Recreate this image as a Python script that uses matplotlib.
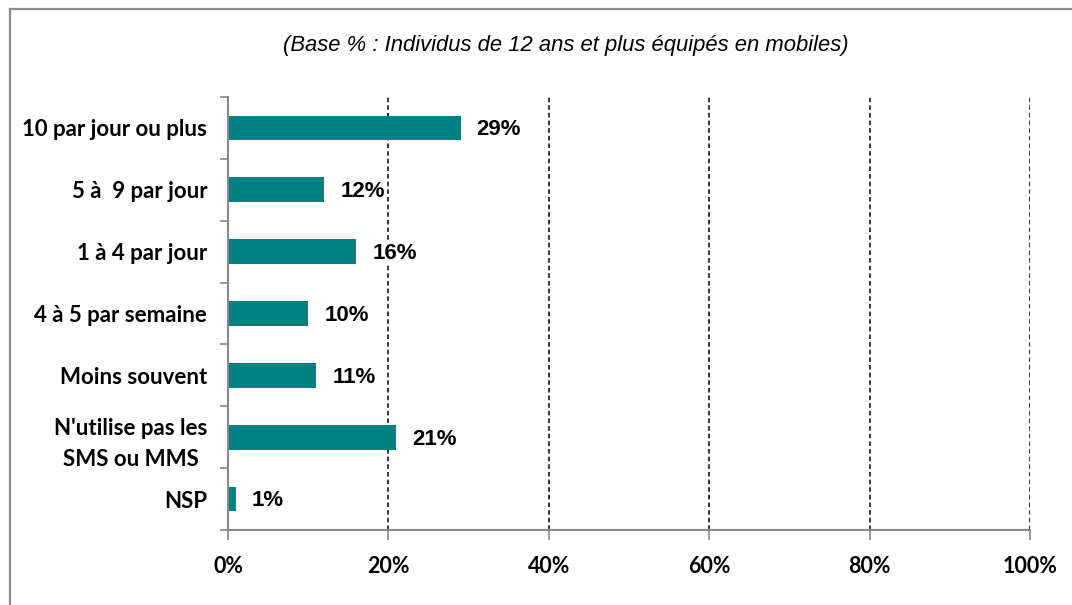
import matplotlib
matplotlib.use("Agg")
import matplotlib.pyplot as plt
from matplotlib.lines import Line2D

categories = ["10 par jour ou plus", "5 à  9 par jour", "1 à 4 par jour", "4 à 5 par semaine",
              "Moins souvent", "N'utilise pas les\nSMS ou MMS", "NSP"]
values = [29, 12, 16, 10, 11, 21, 1]
xticks = [0, 20, 40, 60, 80, 100]
xtick_labels = ["0%", "20%", "40%", "60%", "80%", "100%"]
title = "(Base % : Individus de 12 ans et plus équipés en mobiles)"

W, H = 1072, 605
fig = plt.figure(figsize=(W / 100, H / 100), dpi=100)
fig.patch.set_facecolor("white")
# frame: left and top edges only visible
fig.add_artist(Line2D([10 / W, 10 / W], [0, 1 - 9 / H], transform=fig.transFigure,
                      color="#8c8c8c", linewidth=1.6))
fig.add_artist(Line2D([10 / W, 1], [1 - 9 / H, 1 - 9 / H], transform=fig.transFigure,
                      color="#8c8c8c", linewidth=1.6))

ax = fig.add_axes([228 / W, 1 - 530 / H, (1030 - 228) / W, (530 - 97) / H])
n = len(categories)
ypos = list(range(n))
ax.barh(ypos, values, height=0.4, color="#008080", zorder=3)
ax.set_ylim(n - 0.5, -0.5)
ax.set_xlim(0, 100)

ax.set_xticks(xticks)
ax.set_xticklabels(xtick_labels, fontfamily="Lato", fontweight="bold", fontsize=15.5)
ax.set_yticks(ypos)
ax.set_yticklabels(categories, fontfamily="Lato", fontweight="bold", fontsize=16, linespacing=1.55)
for lab in ax.get_yticklabels():
    lab.set_multialignment("center")
ax.tick_params(axis="y", length=0, pad=15)
ax.set_yticks([i - 0.5 for i in range(n + 1)], minor=True)
ax.tick_params(axis="y", which="minor", length=6, color="#888888", width=1.2)
ax.tick_params(axis="x", length=7, color="#888888", width=1.2, pad=12)

for x in xticks[1:]:
    ax.axvline(x, color="black", linestyle=(0, (3, 2)), linewidth=1.1, zorder=1)

for s in ["top", "right"]:
    ax.spines[s].set_visible(False)
for s in ["left", "bottom"]:
    ax.spines[s].set_color("#888888")
    ax.spines[s].set_linewidth(1.5)
    ax.spines[s].set_zorder(4)

for y, v in zip(ypos, values):
    ax.text(v + 2.0, y + 0.03, f"{v}%", va="center", ha="left", fontfamily="Liberation Sans",
            fontweight="bold", fontsize=16, zorder=5,
            bbox=dict(facecolor="white", edgecolor="none", pad=1))

fig.text(566 / W, 1 - 45 / H, title, ha="center", va="center", fontfamily="Liberation Sans",
         fontstyle="italic", fontsize=15.8)

fig.savefig("out.png", dpi=100)
